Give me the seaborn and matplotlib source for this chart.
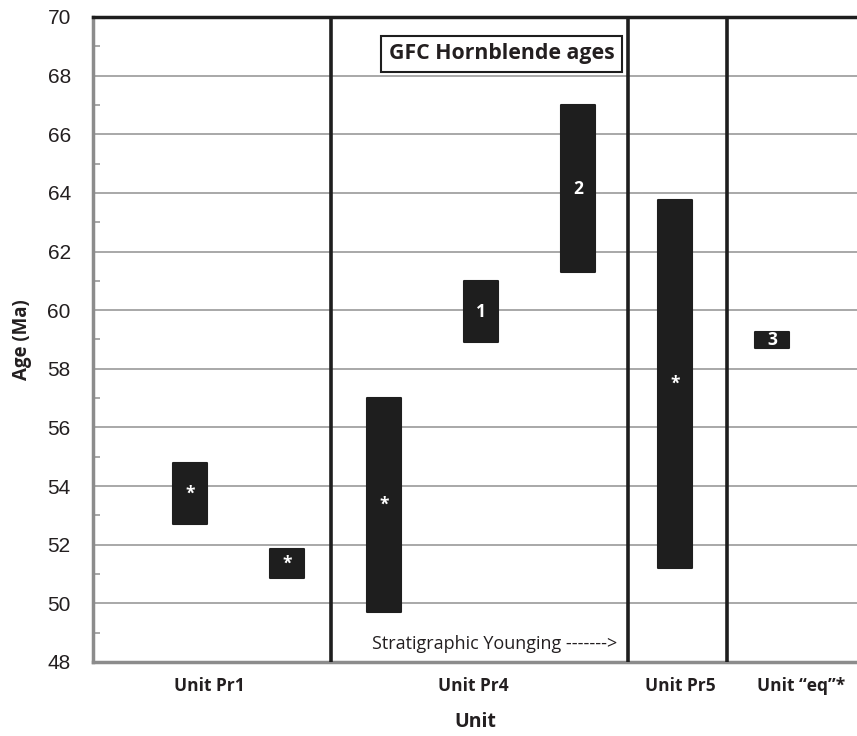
import matplotlib
matplotlib.use("Agg")
import matplotlib.pyplot as plt
import seaborn as sns
import pandas as pd
import numpy as np

# Hornblende age ranges (Ma) per sample, in stratigraphic order
positions = [1, 2, 3, 4, 5, 6, 7]
age_low = [52.7, 50.85, 49.7, 58.9, 61.3, 51.2, 58.7]
age_high = [54.8, 51.85, 57.0, 61.0, 67.0, 63.75, 59.25]
bar_labels = ["*", "*", "*", "1", "2", "*", "3"]

# Unit groupings along the x axis
unit_names = ["Unit Pr1", "Unit Pr4", "Unit Pr5", "Unit \u201ceq\u201d*"]
unit_label_pos = [1.2, 3.92, 6.05, 7.3]
unit_dividers = [2.45, 5.52, 6.54]

df = pd.DataFrame({
    "pos": positions,
    "low": age_low,
    "span": np.array(age_high) - np.array(age_low),
    "label": bar_labels,
})

sns.set_theme(style="white")
plt.rcParams["font.family"] = ["Liberation Sans", "DejaVu Sans"]

fig = plt.figure(figsize=(8.57, 7.36), dpi=100)
ax = fig.add_axes([93 / 857, 1 - 662 / 736, 1 - 93 / 857, (662 - 17) / 736])

sns.barplot(data=df, x="pos", y="span", bottom=df["low"].values, native_scale=True,
            width=0.35, color="#1e1e1e", saturation=1, ax=ax,
            edgecolor="#1e1e1e", linewidth=1.5)
for p in ax.patches:
    p.set_joinstyle("round")

for x, lo, sp, lab in zip(df["pos"], df["low"], df["span"], df["label"]):
    ax.text(x, lo + sp / 2, lab, ha="center", va="center", color="white",
            fontsize=12.5, fontweight="bold", family=["Open Sans", "DejaVu Sans"])

ax.set_ylim(48, 70)
ax.set_xlim(0, 7.876)
ax.set_yticks(np.arange(48, 71, 2))
ax.set_yticks(np.arange(49, 70, 2), minor=True)
ax.yaxis.grid(True, which="major", color="#a8a8a8", linewidth=1.4, zorder=0)
ax.set_axisbelow(True)
ax.tick_params(axis="y", which="major", labelsize=15, length=0, pad=16, labelcolor="#231f20")
ax.tick_params(axis="y", which="minor", direction="in", length=5, width=1.2,
               color="#9a9a9a", left=True)

ax.set_xticks(unit_label_pos)
ax.set_xticklabels(unit_names, fontsize=12.5, fontweight="bold",
                   family=["Open Sans", "DejaVu Sans"], color="#231f20")
ax.tick_params(axis="x", length=0, pad=11)

for x in unit_dividers:
    ax.axvline(x, color="#1e1e1e", linewidth=2.6, zorder=3)

for side in ["left", "bottom"]:
    ax.spines[side].set_color("#8c8c8c")
    ax.spines[side].set_linewidth(2.5)
ax.spines["top"].set_color("#1e1e1e")
ax.spines["top"].set_linewidth(2.5)
ax.spines["right"].set_visible(False)

ax.set_xlabel("Unit", fontsize=14, fontweight="bold",
              family=["Open Sans", "DejaVu Sans"], labelpad=12, color="#231f20")
ax.set_ylabel("Age (Ma)", fontsize=13.5, fontweight="bold",
              family=["Open Sans", "DejaVu Sans"], labelpad=11, color="#231f20")

ax.text(4.21, 68.75, "GFC Hornblende ages", ha="center", va="center",
        fontsize=15.3, fontweight="bold", family=["Open Sans", "DejaVu Sans"],
        color="#231f20",
        bbox=dict(boxstyle="square,pad=0.35", facecolor="white",
                  edgecolor="#1e1e1e", linewidth=1.5))

ax.text(4.14, 48.6, "Stratigraphic Younging ------->", ha="center", va="center",
        fontsize=13, family=["Open Sans", "DejaVu Sans"], color="#231f20")

fig.savefig("out.png", dpi=100)
